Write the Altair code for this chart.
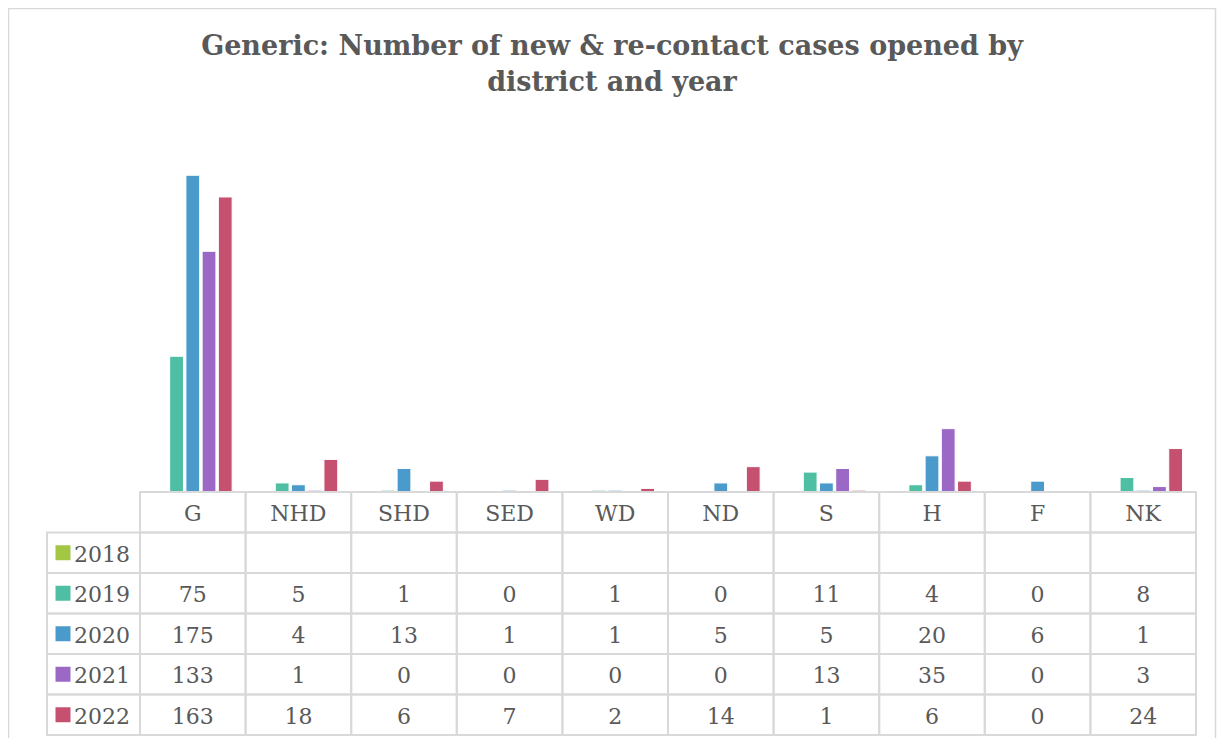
import altair as alt
import pandas as pd

districts = ["G", "NHD", "SHD", "SED", "WD", "ND", "S", "H", "F", "NK"]
years = ["2018", "2019", "2020", "2021", "2022"]
v2018 = [None] * 10
v2019 = [75, 5, 1, 0, 1, 0, 11, 4, 0, 8]
v2020 = [175, 4, 13, 1, 1, 5, 5, 20, 6, 1]
v2021 = [133, 1, 0, 0, 0, 0, 13, 35, 0, 3]
v2022 = [163, 18, 6, 7, 2, 14, 1, 6, 0, 24]
colors = ["#A3C644", "#4EBFA3", "#4A9BCB", "#9B68C6", "#C5506F"]

series = {"2018": v2018, "2019": v2019, "2020": v2020, "2021": v2021, "2022": v2022}
rows = []
for y in years:
    for d, v in zip(districts, series[y]):
        rows.append({"district": d, "year": y, "value": v,
                     "label": "" if v is None else str(v)})
df = pd.DataFrame(rows)
bars_df = df[df["value"].notna()]

row_keys = ["header"] + years
cells = pd.DataFrame([{"district": d, "row": r} for d in districts for r in row_keys])
hdr = pd.DataFrame({"district": districts, "row": ["header"] * 10})
yr = pd.DataFrame({"row": years, "year": years})

TXT = "#595959"
GRID = "#D9D9D9"
FONT = "DejaVu Serif"

xenc = alt.X("district:N", sort=districts,
             scale=alt.Scale(domain=districts, paddingInner=0, paddingOuter=0),
             axis=None)
rowscale = alt.Scale(domain=row_keys, range=[362, 605], paddingInner=0, paddingOuter=0)
color = alt.Color("year:N", scale=alt.Scale(domain=years, range=colors), legend=None)

frame = alt.Chart(pd.DataFrame({"k": [0]})).mark_rect(
    fill="white", fillOpacity=0, stroke=GRID, strokeWidth=1.5
).encode(x=alt.value(-131.5), x2=alt.value(1075.5), y=alt.value(-121.5), y2=alt.value(620))

bars = alt.Chart(bars_df).mark_bar(stroke="white", strokeWidth=1).encode(
    x=xenc,
    xOffset=alt.XOffset("year:N", scale=alt.Scale(domain=years, paddingInner=0.15, paddingOuter=0.83)),
    y=alt.Y("value:Q", scale=alt.Scale(domain=[0, 200], range=[362, 0], nice=False, zero=True), axis=None),
    color=color,
)

cell_rects = alt.Chart(cells).mark_rect(fill="white", fillOpacity=0, stroke=GRID, strokeWidth=2).encode(
    x=xenc,
    y=alt.Y("row:N", scale=rowscale, axis=None),
)

label_cells = alt.Chart(yr).mark_rect(fill="white", fillOpacity=0, stroke=GRID, strokeWidth=2).encode(
    x=alt.value(-93), x2=alt.value(0),
    y=alt.Y("row:N", scale=rowscale, axis=None),
)

header_text = alt.Chart(hdr).mark_text(font=FONT, fontSize=22, color=TXT, baseline="middle", dy=2).encode(
    x=xenc,
    y=alt.Y("row:N", scale=rowscale, axis=None),
    text="district:N",
)

value_text = alt.Chart(df).mark_text(font=FONT, fontSize=22, color=TXT, baseline="middle", dy=2).encode(
    x=xenc,
    y=alt.Y("year:N", scale=rowscale, axis=None),
    text="label:N",
)

swatches = alt.Chart(yr).mark_square(size=225, opacity=1).encode(
    x=alt.value(-77),
    y=alt.Y("row:N", scale=rowscale, axis=None),
    color=color,
)

year_text = alt.Chart(yr).mark_text(font=FONT, fontSize=22, color=TXT, align="left", baseline="middle", dy=2).encode(
    x=alt.value(-66),
    y=alt.Y("row:N", scale=rowscale, axis=None),
    text="year:N",
)

chart = alt.layer(
    frame, bars, cell_rects, label_cells, header_text, value_text, swatches, year_text
).resolve_scale(y="independent").properties(
    width=1056,
    height=605,
    background="white",
    autosize=alt.AutoSizeParams(type="none"),
    padding={"left": 132, "top": 122, "right": 21, "bottom": 3},
    title=alt.TitleParams(
        text=["Generic: Number of new & re-contact cases opened by", "district and year"],
        font=FONT, fontSize=27, fontWeight="bold", color=TXT,
        anchor="middle", frame="bounds", lineHeight=36, offset=-89,
    ),
).configure_view(strokeWidth=0, stroke="transparent")

chart.save("out.html", embed_options={"renderer": "svg", "actions": False})
